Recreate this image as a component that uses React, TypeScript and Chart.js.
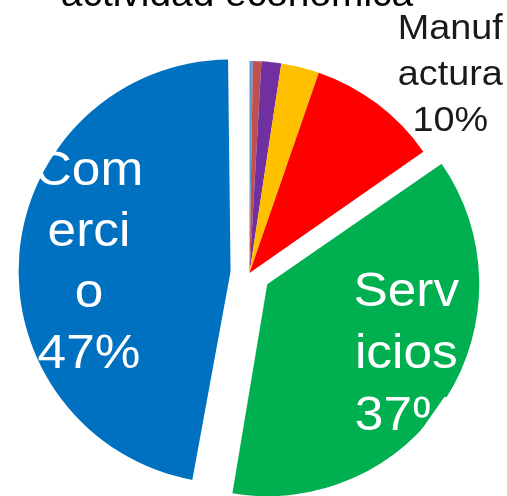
import React, { useEffect, useRef } from 'react';
import { Chart, registerables } from 'chart.js';

Chart.register(...registerables);

// ---- data ----
const categories = ['Otros', 'Minería', 'Construcción', 'Agropecuario', 'Manufactura', 'Servicios', 'Comercio'];
const shares = [0.25, 0.65, 1.5, 2.9, 10, 37.4, 47.3];
const sliceColors = ['#5B9BD5', '#C0504D', '#7030A0', '#FFC000', '#FF0000', '#00B050', '#0070C0'];
const explodeOffsets = [0, 0, 0, 0, 0, 84, 76];
const chartTitle = 'actividad económica';
const manufLines = ['Manuf', 'actura', '10%'];
const servLines = ['Serv', 'icios', '37%'];
const comLines = ['Com', 'erci', 'o', '47%'];

// ---- layout / style constants ----
const RADIUS = 212;
const FONT = '"Liberation Sans", Arial, Helvetica, sans-serif';

const placements = [
  { index: 4, lines: manufLines, dist: 1.33, angle: 45.4, size: 35, lineGap: 46, color: '#1a1a1a', sx: 1.08 },
  { index: 5, lines: servLines, dist: 0.736, angle: 117, size: 48, lineGap: 62, color: '#ffffff', sx: 1.07 },
  { index: 6, lines: comLines, dist: 0.669, angle: 273.2, size: 48, lineGap: 61, color: '#ffffff', sx: 1.07 },
];

const labelPlugin = {
  id: 'sliceLabels',
  afterUpdate(chart: any) {
    const meta = chart.getDatasetMeta(0);
    meta.data.forEach((arc: any, i: number) => {
      const o = (explodeOffsets[i] || 0) / 4;
      const fix = 1 - Math.sin(Math.min(Math.PI, arc.circumference || 0));
      arc.outerRadius = RADIUS - o * fix;
    });
  },
  afterDatasetsDraw(chart: any) {
    const ctx: CanvasRenderingContext2D = chart.ctx;
    const meta = chart.getDatasetMeta(0);
    ctx.save();
    ctx.textAlign = 'center';
    placements.forEach((p) => {
      const arc = meta.data[p.index];
      const half = (arc.startAngle + arc.endAngle) / 2;
      const o = (explodeOffsets[p.index] || 0) / 4;
      const ax = arc.x + Math.cos(half) * o;
      const ay = arc.y + Math.sin(half) * o;
      const a = ((p.angle - 90) * Math.PI) / 180;
      const cx = ax + Math.cos(a) * p.dist * RADIUS;
      const cy = ay + Math.sin(a) * p.dist * RADIUS;
      ctx.font = `${p.size}px ${FONT}`;
      ctx.fillStyle = p.color;
      ctx.textBaseline = 'middle';
      const n = p.lines.length;
      p.lines.forEach((line, k) => {
        const y = cy + (k - (n - 1) / 2) * p.lineGap;
        ctx.save();
        ctx.translate(cx, y);
        ctx.scale(p.sx, 1);
        ctx.fillText(line, 0, 0);
        ctx.restore();
      });
    });
    // title (cut off by the top edge, as in the reference)
    ctx.font = `36px ${FONT}`;
    ctx.fillStyle = '#000000';
    ctx.textBaseline = 'alphabetic';
    ctx.save();
    ctx.translate(237, 6);
    ctx.scale(1.08, 1);
    ctx.fillText(chartTitle, 0, 0);
    ctx.restore();
    ctx.restore();
  },
};

export default function App() {
  const ref = useRef<HTMLCanvasElement | null>(null);
  useEffect(() => {
    if (!ref.current) return;
    const chart = new Chart(ref.current, {
      type: 'pie',
      data: {
        labels: categories,
        datasets: [
          {
            data: shares,
            backgroundColor: sliceColors,
            borderWidth: 0,
            offset: explodeOffsets,
            radius: RADIUS,
            clip: false as any,
          } as any,
        ],
      },
      options: {
        responsive: false,
        animation: false,
        devicePixelRatio: 1,
        layout: { padding: { top: 50, left: 0, right: 8, bottom: 0 } },
        plugins: {
          legend: { display: false },
          tooltip: { enabled: false },
          title: { display: false },
        },
      },
      plugins: [labelPlugin],
    });
    return () => chart.destroy();
  }, []);
  return (
    <div style={{ position: 'fixed', left: 0, top: 0, width: 507, height: 496, overflow: 'hidden', background: '#fff' }}>
      <canvas ref={ref} width={507} height={496} style={{ width: 507, height: 496, display: 'block' }} />
    </div>
  );
}
